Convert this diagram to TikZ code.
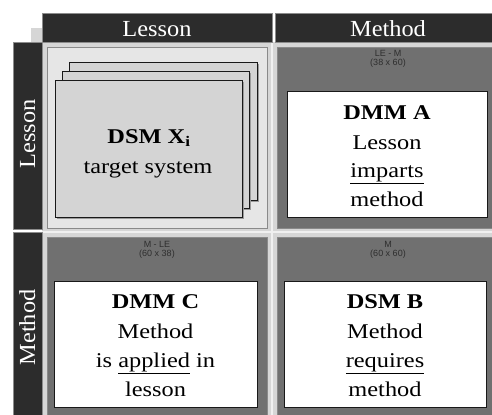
\documentclass[tikz,border=0pt]{standalone}
\usepackage{fontspec}
\setmainfont{Liberation Serif}
\newfontfamily\smallsans{Liberation Sans}
\definecolor{hdrfill}{HTML}{2C2C2C}
\definecolor{hdrline}{HTML}{8C8C8C}
\definecolor{gapgray}{HTML}{D6D6D6}
\definecolor{gaplight}{HTML}{F0F0F0}
\definecolor{cellline}{HTML}{8A8A8A}
\definecolor{darkcell}{HTML}{707070}
\definecolor{lightcell}{HTML}{E6E6E6}
\definecolor{cardfill}{HTML}{D4D4D4}
\definecolor{shadowgray}{HTML}{9A9A9A}
\definecolor{smalltext}{HTML}{2E2E2E}
\newcommand\wide[1]{\scalebox{1.16}[1]{#1}}
\newcommand\hwide[1]{\scalebox{1.06}[1]{#1}}
\begin{document}
\begin{tikzpicture}[x=1bp,y=-1bp,
  hdr/.style={fill=hdrfill,draw=hdrline,line width=0.8bp},
  cellbox/.style={draw=cellline,line width=0.8bp},
  cardbox/.style={fill=cardfill,draw=black!90,line width=1bp},
  cardshadow/.style={fill=shadowgray},
  whitebox/.style={fill=white,draw=black!90,line width=1bp},
  body/.style={font=\fontsize{21bp}{29bp}\selectfont,anchor=base,inner sep=0pt},
  hdrtext/.style={font=\fontsize{23bp}{27bp}\selectfont,text=white,anchor=base,inner sep=0pt},
  smalltxt/.style={font=\smallsans\fontsize{9bp}{11bp}\selectfont,text=smalltext,anchor=base,inner sep=0pt}]
\useasboundingbox (0,0) rectangle (492,414);
\clip (0,0) rectangle (492,414);
% corner piece
\fill[gapgray] (31,28) rectangle (42,42);
% gap background
\fill[gapgray] (42,42) rectangle (500,420);
\draw[gaplight,line width=2.5bp] (272,42) -- (272,420);
\draw[gaplight,line width=2.5bp] (42,232) -- (500,232);
% headers
\draw[hdr] (42,13) rectangle (272.5,42);
\draw[hdr] (275.5,13) rectangle (500,42);
\draw[hdr] (13,42) rectangle (42,229.5);
\draw[hdr] (13,232.5) rectangle (42,420);
% cells
\draw[cellbox,fill=lightcell] (47,47) rectangle (267,228);
\draw[cellbox,fill=darkcell] (277,47) rectangle (500,228);
\draw[cellbox,fill=darkcell] (47,237) rectangle (267,420);
\draw[cellbox,fill=darkcell] (277,237) rectangle (500,420);
% stacked cards
\fill[cardshadow] (70.5,63.5) rectangle (258.5,201.5);
\draw[cardbox] (69,62) rectangle (257,200);
\fill[cardshadow] (63.5,72.5) rectangle (250.5,209.5);
\draw[cardbox] (62,71) rectangle (249,208);
\fill[cardshadow] (56.5,81.5) rectangle (243.5,218.5);
\draw[cardbox] (55,80) rectangle (242,217);
% white boxes
\draw[whitebox] (287,91) rectangle (487,217);
\draw[whitebox] (54,281) rectangle (257,407);
\draw[whitebox] (284,281) rectangle (486,407);
% header texts
\node[hdrtext] (hLesson) at (157,36) {\hwide{Lesson}};
\node[hdrtext] (hMethod) at (388,36) {\hwide{Method}};
\node[hdrtext,rotate=90] (vLesson) at (35,134) {\hwide{Lesson}};
\node[hdrtext,rotate=90] (vMethod) at (35,327.5) {\hwide{Method}};
% small labels
\node[smalltxt] (tr1) at (388,56) {LE - M};
\node[smalltxt] (tr2) at (388,65.5) {(38 x 60)};
\node[smalltxt] (bl1) at (157,247) {M - LE};
\node[smalltxt] (bl2) at (157,256.5) {(60 x 38)};
\node[smalltxt] (br1) at (388,247) {M};
\node[smalltxt] (br2) at (388,256.5) {(60 x 60)};
% DSM X
\node[body] (x1) at (149,143) {\wide{\textbf{DSM X\textsubscript{i}}}};
\node[body] (x2) at (148,173) {\wide{target system}};
% DMM A
\node[body] (a1) at (387,119) {\wide{\textbf{DMM A}}};
\node[body] (a2) at (387,149) {\wide{Lesson}};
\node[body] (a3) at (387,177.5) {\wide{\underline{imparts}}};
\node[body] (a4) at (387,206) {\wide{method}};
% DMM C
\node[body] (c1) at (155.5,308) {\wide{\textbf{DMM C}}};
\node[body] (c2) at (155.5,338) {\wide{Method}};
\node[body] (c3) at (155.5,367) {\wide{is \underline{applied} in}};
\node[body] (c4) at (155.5,396) {\wide{lesson}};
% DSM B
\node[body] (b1) at (385,308) {\wide{\textbf{DSM B}}};
\node[body] (b2) at (385,338) {\wide{Method}};
\node[body] (b3) at (385,367) {\wide{\underline{requires}}};
\node[body] (b4) at (385,396) {\wide{method}};
\end{tikzpicture}
\end{document}
